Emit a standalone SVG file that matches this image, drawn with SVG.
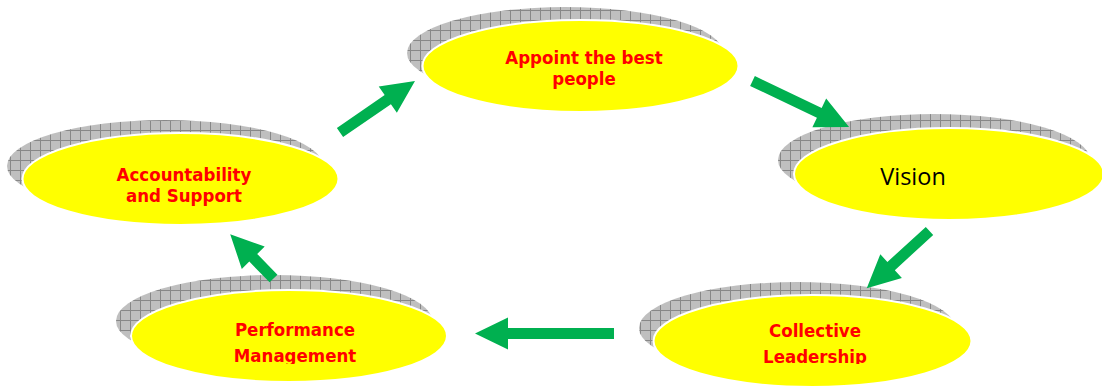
<svg xmlns="http://www.w3.org/2000/svg" width="1102" height="387" viewBox="0 0 1102 387">
<defs>
<pattern id="hatch" patternUnits="userSpaceOnUse" width="10" height="10">
<rect width="10" height="10" fill="#bfbfbf"/>
<path d="M0 0.5H10M0.5 0V10" stroke="#878787" stroke-width="1" fill="none"/>
</pattern>
<clipPath id="clipPerf"><rect x="0" y="0" width="1102" height="364"/></clipPath>
<clipPath id="clipColl"><rect x="0" y="0" width="1102" height="364"/></clipPath>
</defs>
<style>
.shadow{fill:url(#hatch);stroke:none}
.oval{fill:#ffff00;stroke:#ffffff;stroke-width:2}
.lbl{font-family:"DejaVu Sans Condensed","DejaVu Sans",sans-serif;font-stretch:condensed;font-weight:bold;font-size:18.5px;fill:#ff0000;text-anchor:middle}
.vis{font-family:"Open Sans","Liberation Sans",sans-serif;font-size:23.5px;fill:#000000;text-anchor:middle}
.arrow{fill:#00b050}
</style>
<rect width="1102" height="387" fill="#ffffff"/>
<g id="node-appoint">
<ellipse class="shadow" cx="565" cy="53" rx="158" ry="46"/>
<ellipse class="oval" cx="580.5" cy="66" rx="158" ry="46"/>
<text class="lbl" x="584" y="64">Appoint the best</text>
<text class="lbl" x="584" y="85">people</text>
</g>
<g id="node-vision">
<ellipse class="shadow" cx="934" cy="160" rx="156" ry="46"/>
<ellipse class="oval" cx="949" cy="174" rx="155" ry="46"/>
<text class="vis" x="913" y="185">Vision</text>
</g>
<g id="node-collective">
<ellipse class="shadow" cx="797" cy="328" rx="158" ry="46"/>
<ellipse class="oval" cx="812.5" cy="341" rx="159" ry="46"/>
<g clip-path="url(#clipColl)">
<text class="lbl" x="815" y="337">Collective</text>
<text class="lbl" x="815" y="363">Leadership</text>
</g>
</g>
<g id="node-performance">
<ellipse class="shadow" cx="274" cy="321" rx="158" ry="46"/>
<ellipse class="oval" cx="289" cy="336" rx="158" ry="46"/>
<g clip-path="url(#clipPerf)">
<text class="lbl" x="295" y="336">Performance</text>
<text class="lbl" x="295" y="362">Management</text>
</g>
</g>
<g id="node-accountability">
<ellipse class="shadow" cx="165" cy="166" rx="158" ry="46"/>
<ellipse class="oval" cx="180.5" cy="179" rx="158" ry="46"/>
<rect x="283" y="213" width="60" height="14" fill="#ffffff"/>
<text class="lbl" x="184" y="181">Accountability</text>
<text class="lbl" x="184" y="202">and Support</text>
</g>
<g id="connectors">
<polygon class="arrow" transform="translate(340,132.5) rotate(-34.5)" points="0,-5.5 58,-5.5 58,-16 91,0 58,16 58,5.5 0,5.5"/>
<polygon class="arrow" transform="translate(752.5,81) rotate(25.5)" points="0,-5.5 74,-5.5 74,-16 107,0 74,16 74,5.5 0,5.5"/>
<polygon class="arrow" transform="translate(929.5,231) rotate(137.6)" points="0,-5.5 52,-5.5 52,-16 85,0 52,16 52,5.5 0,5.5"/>
<polygon class="arrow" transform="translate(614,333.5) rotate(180)" points="0,-5.5 106,-5.5 106,-16 139,0 106,16 106,5.5 0,5.5"/>
<polygon class="arrow" transform="translate(273.5,278.5) rotate(-134.3)" points="0,-5.5 29,-5.5 29,-16 62,0 29,16 29,5.5 0,5.5"/>
</g>
</svg>
